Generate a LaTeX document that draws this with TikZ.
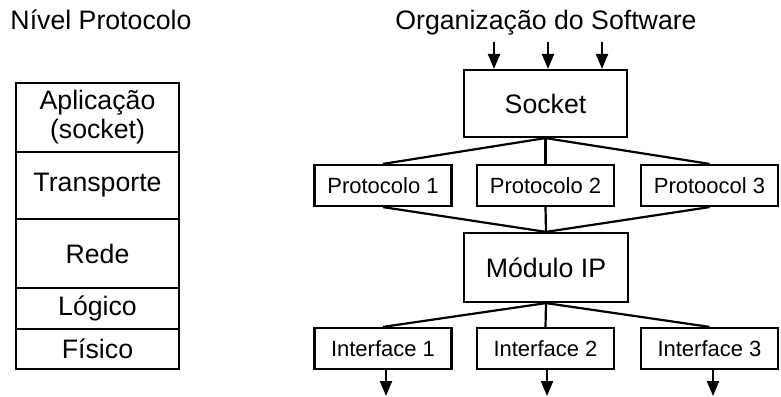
\documentclass[tikz,border=0pt]{standalone}
\usepackage{fontspec}
\setmainfont{Liberation Sans}
\usetikzlibrary{arrows.meta}
\begin{document}
\begin{tikzpicture}[x=1pt, y=-1pt, line width=2.2pt,
  big/.style={draw,inner sep=0pt,align=center,font=\fontsize{26.7}{29}\selectfont},
  small/.style={draw,inner sep=0pt,minimum width=137pt,minimum height=41pt,font=\fontsize{22}{26}\selectfont},
  arr/.style={-{Triangle[length=15pt,width=12pt]}}]
\fill[white] (0,0) rectangle (781,396);
\useasboundingbox (0,0) rectangle (781,396);

\draw (101,30) node[anchor=base,font=\fontsize{26.7}{29}\selectfont](niv) {Nível Protocolo};
\draw (546,30) node[anchor=base,font=\fontsize{26.7}{29}\selectfont](org) {Organização do Software};

\foreach \y/\h/\name/\txt in {117.5/69/apl/{Aplicação\\(socket)},185.5/67/tra/Transporte,253.5/69/red/Rede,308.5/41/log/Lógico,349/40/fis/Físico}
{
\draw (97.5,\y) node[big,minimum width=163pt,minimum height=\h pt](\name) {\txt};
}

\draw (545.5,103.5) node[big,minimum width=163pt,minimum height=67pt](sock) {Socket};
\draw (546,267.5) node[big,minimum width=164pt,minimum height=69pt](ip) {Módulo IP};

\foreach \x/\i/\p/\f in {383/1/Protocolo 1/Interface 1,545.5/2/Protocolo 2/Interface 2,709.5/3/Protoocol 3/Interface 3}
{
\draw (\x,185.5) node[small](p\i) {\p};
\draw (\x,348.5) node[small](if\i) {\f};
}

\foreach \i in {1,2,3}
{
\draw (sock.south) -- (p\i.north);
\draw (p\i.south) -- (ip.north);
\draw (ip.south) -- (if\i.north);
}

\foreach \x/\i in {494/1,548/2,602/3}
{
\coordinate (in\i) at (\x,42);
\draw[arr] (in\i) -- (in\i |- sock.north);
}

\foreach \x/\i in {386/1,547/2,713/3}
{
\coordinate (out\i) at (\x,396);
\draw[arr] (out\i |- if\i.south) -- (out\i);
}
\end{tikzpicture}
\end{document}
